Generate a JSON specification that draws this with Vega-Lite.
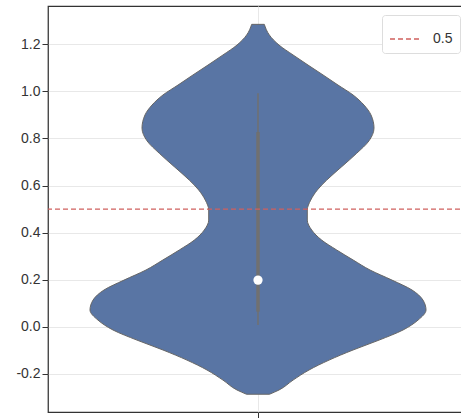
{
  "$schema": "https://vega.github.io/schema/vega-lite/v6.json",
  "width": 420,
  "height": 406,
  "autosize": {"type": "none"},
  "padding": {"left": 48, "top": 6, "right": 0, "bottom": 6},
  "background": "white",
  "config": {
    "view": {"stroke": "#333333", "strokeWidth": 1.25},
    "font": "Liberation Sans",
    "axis": {"labelFont": "Liberation Sans", "labelFontSize": 14, "labelColor": "#333333", "tickColor": "#333333", "gridColor": "#e8e8e8", "gridWidth": 1, "domain": false}
  },
  "datasets": {
    "violin": [
      {"v": 1.285, "hw": 6.3},
      {"v": 1.240, "hw": 11.3},
      {"v": 1.197, "hw": 21},
      {"v": 1.155, "hw": 35},
      {"v": 1.112, "hw": 50},
      {"v": 1.070, "hw": 65},
      {"v": 1.027, "hw": 80},
      {"v": 0.985, "hw": 95},
      {"v": 0.942, "hw": 106},
      {"v": 0.900, "hw": 113},
      {"v": 0.844, "hw": 116},
      {"v": 0.790, "hw": 111},
      {"v": 0.737, "hw": 98.7},
      {"v": 0.680, "hw": 83.7},
      {"v": 0.623, "hw": 68.7},
      {"v": 0.581, "hw": 59.3},
      {"v": 0.538, "hw": 52.7},
      {"v": 0.496, "hw": 49.3},
      {"v": 0.453, "hw": 49.3},
      {"v": 0.411, "hw": 53.7},
      {"v": 0.368, "hw": 63.7},
      {"v": 0.326, "hw": 78.7},
      {"v": 0.283, "hw": 95.3},
      {"v": 0.241, "hw": 112},
      {"v": 0.198, "hw": 134},
      {"v": 0.156, "hw": 154},
      {"v": 0.113, "hw": 165},
      {"v": 0.071, "hw": 168},
      {"v": 0.028, "hw": 160},
      {"v": -0.014, "hw": 145},
      {"v": -0.057, "hw": 121},
      {"v": -0.099, "hw": 95},
      {"v": -0.142, "hw": 71},
      {"v": -0.184, "hw": 51},
      {"v": -0.227, "hw": 35},
      {"v": -0.269, "hw": 21},
      {"v": -0.287, "hw": 11.5}
    ]
  },
  "layer": [
    {
      "data": {"name": "violin"},
      "transform": [{"calculate": "-datum.hw", "as": "lo"}],
      "mark": {"type": "area", "orient": "horizontal", "interpolate": "monotone", "fill": "#5975a4", "stroke": "#666666", "strokeWidth": 1},
      "encoding": {
        "y": {"field": "v", "type": "quantitative", "scale": {"domain": [-0.3625, 1.363], "nice": false, "zero": false},
          "axis": {"title": null, "values": [-0.2, 0, 0.2, 0.4, 0.6, 0.8, 1.0, 1.2], "labelExpr": "replace(format(datum.value, '.1f'), '\u2212', '-')", "tickSize": 6, "labelPadding": 2, "grid": true}},
        "x": {"field": "lo", "type": "quantitative", "scale": {"domain": [-210, 210], "nice": false, "zero": false},
          "axis": {"title": null, "values": [0], "labels": false, "tickSize": 6, "grid": true}},
        "x2": {"field": "hw"}
      }
    },
    {
      "data": {"values": [{"lo": 0.007, "hi": 0.992}]},
      "mark": {"type": "rule", "stroke": "#707070", "strokeWidth": 1.5},
      "encoding": {
        "y": {"field": "lo", "type": "quantitative"},
        "y2": {"field": "hi"},
        "x": {"datum": 0, "type": "quantitative"}
      }
    },
    {
      "data": {"values": [{"q1": 0.064, "q3": 0.827}]},
      "mark": {"type": "rule", "stroke": "#707070", "strokeWidth": 3.5},
      "encoding": {
        "y": {"field": "q1", "type": "quantitative"},
        "y2": {"field": "q3"},
        "x": {"datum": 0, "type": "quantitative"}
      }
    },
    {
      "data": {"values": [{"median": 0.198}]},
      "mark": {"type": "point", "filled": true, "fill": "white", "opacity": 1, "size": 85, "strokeWidth": 0},
      "encoding": {
        "y": {"field": "median", "type": "quantitative"},
        "x": {"datum": 0, "type": "quantitative"}
      }
    },
    {
      "data": {"values": [{"y": 0.5, "label": "0.5"}]},
      "mark": {"type": "rule", "strokeDash": [5, 3], "strokeWidth": 1.3},
      "encoding": {
        "y": {"field": "y", "type": "quantitative"},
        "color": {"field": "label", "type": "nominal", "scale": {"range": ["#d0605e"]},
          "legend": {"title": null, "orient": "none", "legendX": 334, "legendY": 9, "symbolType": "stroke", "symbolSize": 1024, "symbolStrokeWidth": 1.3, "symbolDash": [5, 3], "labelFontSize": 14, "labelColor": "#333333", "labelFont": "Liberation Sans", "fillColor": "white", "strokeColor": "#dddddd", "cornerRadius": 3, "padding": 7, "labelOffset": 10}}
      }
    }
  ]
}
